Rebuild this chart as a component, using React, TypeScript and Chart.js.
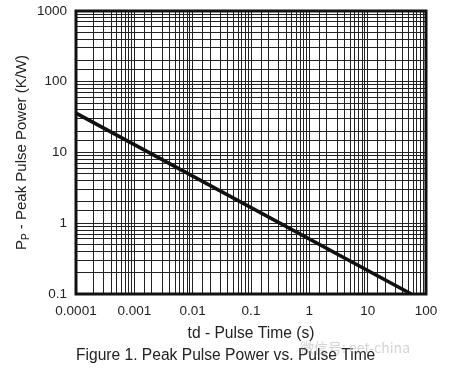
import React, { useEffect, useRef } from "react";
import { Chart, registerables } from "chart.js";

Chart.register(...registerables);

// Data (log-log straight line)
const pulseTime: number[] = [0.0001, 56];
const peakPower: number[] = [36, 0.1];

const xDecades: number[] = [-4, -3, -2, -1, 0, 1, 2];
const xTickLabels: string[] = ["0.0001", "0.001", "0.01", "0.1", "1", "10", "100"];
const yDecades: number[] = [-1, 0, 1, 2, 3];
const yTickLabels: string[] = ["0.1", "1", "10", "100", "1000"];

const xTitle = "td - Pulse Time (s)";
const yTitleMain = "P";
const yTitleSub = "P";
const yTitleRest = " - Peak Pulse Power (K/W)";
const caption = "Figure 1. Peak Pulse Power vs. Pulse Time";
const watermark = "微信号: eet-china";

const FONT = "'Liberation Sans', Arial, Helvetica, sans-serif";

function decadeLabel(v: number, decades: number[], labels: string[]): string {
  const l = Math.log10(v);
  const r = Math.round(l);
  if (Math.abs(l - r) > 1e-6) return "";
  const i = decades.indexOf(r);
  return i >= 0 ? labels[i] : "";
}

export default function App() {
  const ref = useRef<HTMLCanvasElement | null>(null);

  useEffect(() => {
    document.body.style.margin = "0";
    const canvas = ref.current;
    if (!canvas) return;

    const textPlugin = {
      id: "textPlugin",
      afterDraw(chart: any) {
        const ctx = chart.ctx as CanvasRenderingContext2D;
        const a = chart.chartArea;
        // frame
        ctx.save();
        ctx.strokeStyle = "#111";
        ctx.lineWidth = 3;
        ctx.strokeRect(a.left, a.top, a.right - a.left, a.bottom - a.top);
        ctx.restore();

        // x title
        ctx.save();
        ctx.fillStyle = "#222";
        ctx.font = `15.6px ${FONT}`;
        ctx.textAlign = "center";
        ctx.textBaseline = "middle";
        ctx.fillText(xTitle, (a.left + a.right) / 2, 334);
        // caption
        ctx.textAlign = "left";
        ctx.fillText(caption, 76, 356);
        ctx.restore();

        // y title with subscript
        ctx.save();
        ctx.fillStyle = "#222";
        ctx.translate(22, (a.top + a.bottom) / 2);
        ctx.rotate(-Math.PI / 2);
        ctx.textBaseline = "middle";
        ctx.font = `15px ${FONT}`;
        const w1 = ctx.measureText(yTitleMain).width;
        const w3 = ctx.measureText(yTitleRest).width;
        ctx.font = `10px ${FONT}`;
        const w2 = ctx.measureText(yTitleSub).width;
        const total = w1 + w2 + w3;
        let x = -total / 2;
        ctx.font = `15px ${FONT}`;
        ctx.textAlign = "left";
        ctx.fillText(yTitleMain, x, 0);
        x += w1;
        ctx.font = `10px ${FONT}`;
        ctx.fillText(yTitleSub, x, 4);
        x += w2;
        ctx.font = `15px ${FONT}`;
        ctx.fillText(yTitleRest, x, 0);
        ctx.restore();

        // watermark
        ctx.save();
        ctx.fillStyle = "rgba(160,160,160,0.45)";
        ctx.font = `14px 'Noto Sans CJK SC', ${FONT}`;
        ctx.textAlign = "left";
        ctx.textBaseline = "middle";
        ctx.fillText(watermark, 300, 348);
        ctx.restore();
      },
    };

    const chart = new Chart(canvas, {
      type: "line",
      data: {
        datasets: [
          {
            data: pulseTime.map((t, i) => ({ x: t, y: peakPower[i] })),
            borderColor: "#111",
            borderWidth: 3.5,
            pointRadius: 0,
            fill: false,
            tension: 0,
          },
        ],
      },
      options: {
        responsive: false,
        animation: false,
        layout: { padding: { left: 0, right: 24, top: 11, bottom: 0 } },
        plugins: { legend: { display: false }, tooltip: { enabled: false }, title: { display: false } },
        scales: {
          x: {
            type: "logarithmic",
            min: 0.0001,
            max: 100,
            grid: { color: "#222", lineWidth: 1, drawTicks: false },
            border: { display: false },
            ticks: {
              autoSkip: false,
              maxRotation: 0,
              padding: 9,
              color: "#222",
              font: { family: FONT, size: 13.5 },
              callback: (v: any) => decadeLabel(Number(v), xDecades, xTickLabels),
            },
            afterFit: (s: any) => {
              s.height = 76;
              s.paddingLeft = 0;
              s.paddingRight = 0;
              s.paddingTop = 0;
              s.paddingBottom = 0;
            },
          },
          y: {
            type: "logarithmic",
            min: 0.1,
            max: 1000,
            grid: { color: "#222", lineWidth: 1, drawTicks: false },
            border: { display: false },
            ticks: {
              autoSkip: false,
              padding: 9,
              color: "#222",
              font: { family: FONT, size: 13.5 },
              callback: (v: any) => decadeLabel(Number(v), yDecades, yTickLabels),
            },
            afterFit: (s: any) => {
              s.width = 76;
              s.paddingLeft = 0;
              s.paddingRight = 0;
              s.paddingTop = 0;
              s.paddingBottom = 0;
            },
          },
        },
      },
      plugins: [textPlugin],
    } as any);

    return () => chart.destroy();
  }, []);

  return (
    <div style={{ width: 450, height: 370, background: "#fff" }}>
      <canvas ref={ref} width={450} height={370} />
    </div>
  );
}
